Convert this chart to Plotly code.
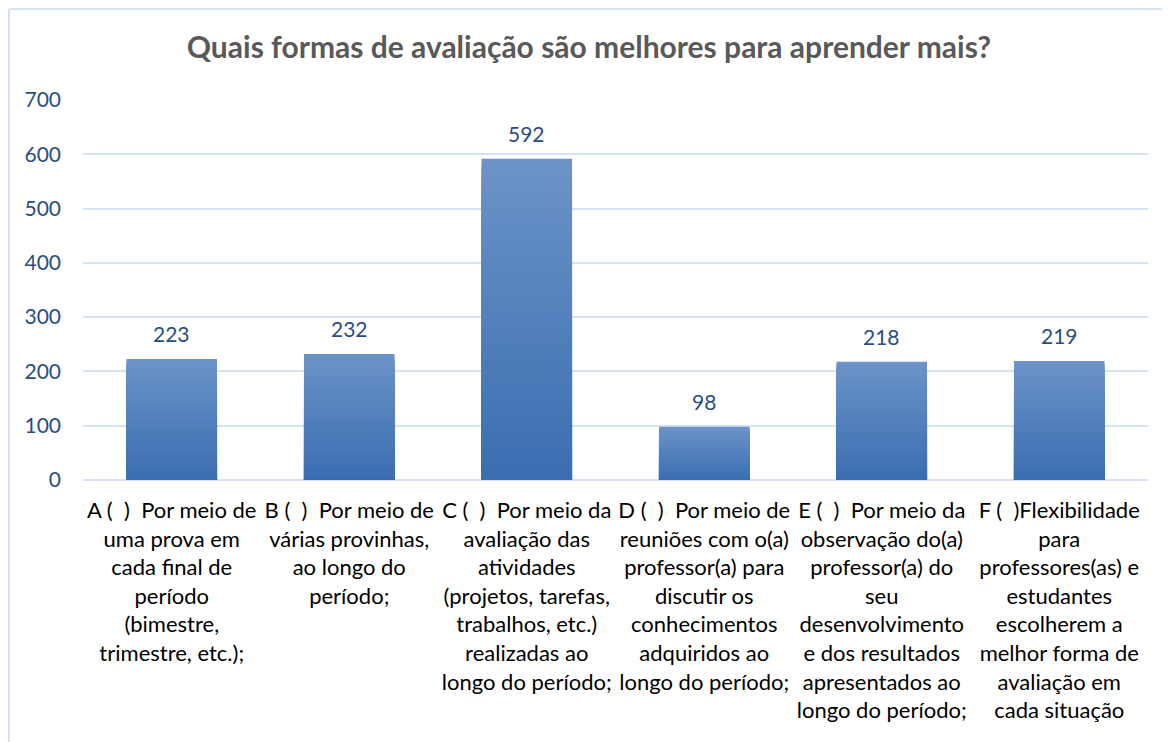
import plotly.graph_objects as go

categories = [
    "A\u00a0(\u00a0\u00a0)\u00a0\u00a0Por meio de<br>uma prova em<br>cada final de<br>período<br>(bimestre,<br>trimestre, etc.);",
    "B\u00a0(\u00a0\u00a0)\u00a0\u00a0Por meio de<br>várias provinhas,<br>ao longo do<br>período;",
    "C\u00a0(\u00a0\u00a0)\u00a0\u00a0Por meio da<br>avaliação das<br>atividades<br>(projetos, tarefas,<br>trabalhos, etc.)<br>realizadas ao<br>longo do período;",
    "D\u00a0(\u00a0\u00a0)\u00a0\u00a0Por meio de<br>reuniões com o(a)<br>professor(a) para<br>discutir os<br>conhecimentos<br>adquiridos ao<br>longo do período;",
    "E\u00a0(\u00a0\u00a0)\u00a0\u00a0Por meio da<br>observação do(a)<br>professor(a) do<br>seu<br>desenvolvimento<br>e dos resultados<br>apresentados ao<br>longo do período;",
    "F\u00a0(\u00a0\u00a0)Flexibilidade<br>para<br>professores(as) e<br>estudantes<br>escolherem a<br>melhor forma de<br>avaliação em<br>cada situação",
]
values = [223, 232, 592, 98, 218, 219]
y_ticks = [0, 100, 200, 300, 400, 500, 600, 700]

FONT = "Lato"
top_rgb = (108, 147, 200)
bot_rgb = (58, 110, 177)
N = 40

W, H = 1162, 734
L, R, T, B = 75, 22, 92, 262
PW, PH = W - L - R, H - T - B

fig = go.Figure()
# gradient: overlayed bars, tallest (lightest) first
for k in range(N - 1, -1, -1):
    t = (k + 0.5) / N
    c = tuple(int(round(bot_rgb[i] + (top_rgb[i] - bot_rgb[i]) * t)) for i in range(3))
    fig.add_trace(go.Bar(
        x=categories,
        y=[v * (k + 1) / N for v in values],
        marker=dict(color="rgb(%d,%d,%d)" % c, line=dict(width=0)),
        showlegend=False,
        hoverinfo="skip",
    ))

for cat, v in zip(categories, values):
    fig.add_annotation(x=cat, y=v, text=str(v), showarrow=False,
                       yanchor="bottom", yshift=11,
                       font=dict(family=FONT, size=21, color="#2A4D80"))

fig.update_layout(
    width=W, height=H,
    barmode="overlay", bargap=0.49,
    plot_bgcolor="white", paper_bgcolor="white",
    margin=dict(l=L, r=R, t=T, b=B),
    title=dict(text="<b>Quais formas de avaliação são melhores para aprender mais?</b>",
               x=0.5, xanchor="center", y=1 - 39 / H, yanchor="middle",
               font=dict(family=FONT, size=30, color="#595959")),
    font=dict(family=FONT),
)
fig.update_xaxes(
    tickfont=dict(family=FONT, size=22, color="#000000"),
    showgrid=False, showline=False, ticks="", ticklabelstandoff=15,
)
fig.update_yaxes(
    range=[0, 700], tickvals=y_ticks, showgrid=True, gridcolor="#D9E2F3", gridwidth=2,
    zeroline=True, zerolinecolor="#D9E2F3", zerolinewidth=2,
    tickfont=dict(family=FONT, size=21, color="#2A4D80"), ticks="", ticklabelstandoff=21,
)
# chart border (left and top edges)
bx = (1 - L) / PW
by = (PH + T - 1) / PH
fig.add_shape(type="line", xref="paper", yref="paper",
              x0=bx, x1=bx, y0=-B / PH, y1=by,
              line=dict(color="#D9E2F3", width=2))
fig.add_shape(type="line", xref="paper", yref="paper",
              x0=bx, x1=(W - L) / PW, y0=by, y1=by,
              line=dict(color="#D9E2F3", width=2))

fig.write_html("out.html")
